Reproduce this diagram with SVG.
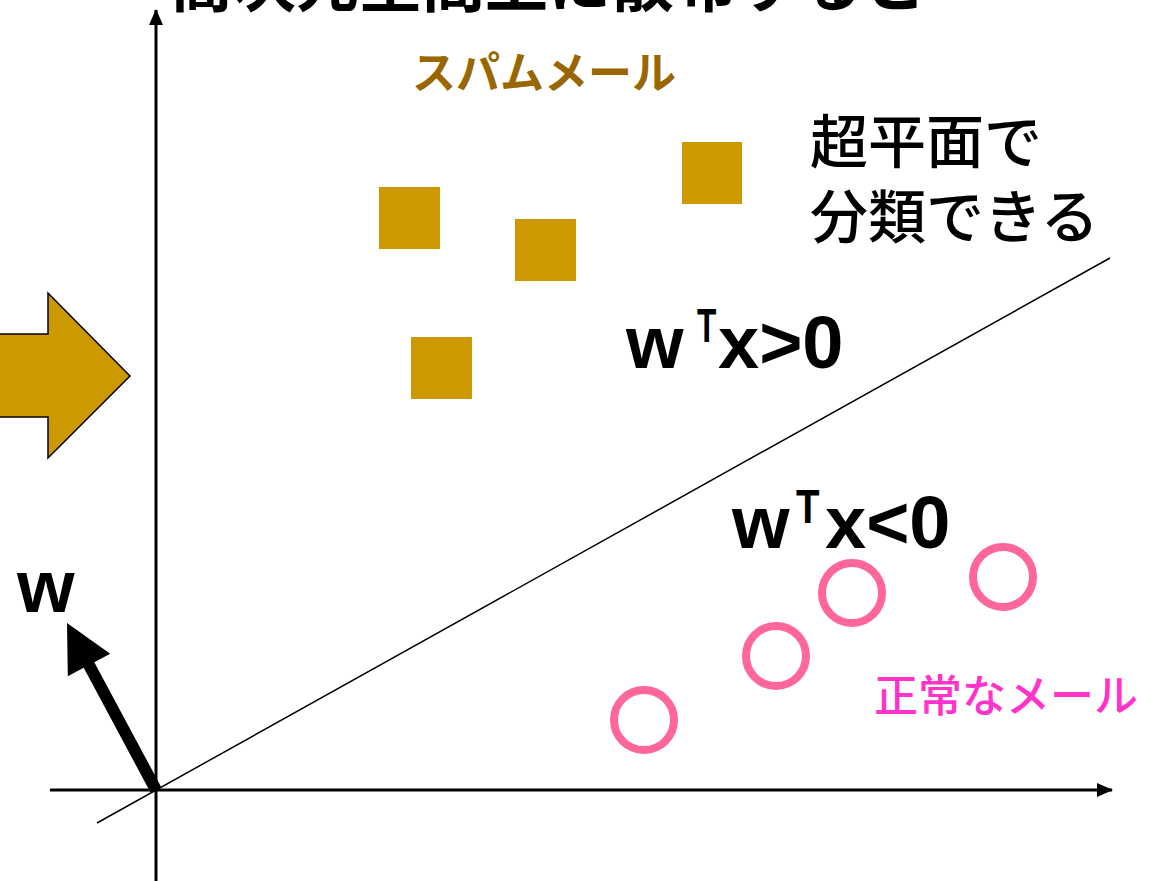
<svg xmlns="http://www.w3.org/2000/svg" width="1158" height="881" viewBox="0 0 1158 881">
  <style>
    .jp { font-family: "Noto Sans CJK JP", "Noto Sans", sans-serif; }
    .math { font-family: "Liberation Sans", Arial, sans-serif; font-weight: bold; fill: #000; font-size: 74px; }
    .sup { font-family: "Liberation Sans", Arial, sans-serif; font-weight: bold; fill: #000; font-size: 48px; }
    .spam { fill: #CC9900; }
    .ham { fill: none; stroke: #FF6699; stroke-width: 8; }
    .axis { stroke: #000; stroke-width: 3; fill: none; }
  </style>
  <defs>
    <marker id="axhead" markerWidth="16" markerHeight="14" refX="15" refY="7" orient="auto" markerUnits="userSpaceOnUse">
      <path d="M0,0 L16,7 L0,14 Z" fill="#000"/>
    </marker>
  </defs>
  <rect width="1158" height="881" fill="#fff"/>

  <g id="title">
    <text class="jp" x="170" y="6" font-size="63" font-weight="bold" fill="#000">高次元空間上に散布すると</text>
  </g>

  <g id="big-arrow">
    <path d="M-5,334 L48,334 L48,293 L130,376 L48,458 L48,417 L-5,417 Z" fill="#CC9900" stroke="#000" stroke-width="1.5"/>
  </g>

  <g id="connectors">
    <line class="axis" x1="156" y1="881" x2="156" y2="10" marker-end="url(#axhead)"/>
    <line class="axis" x1="50" y1="790" x2="1112" y2="790" marker-end="url(#axhead)"/>
    <line x1="97" y1="823" x2="1110" y2="258" stroke="#000" stroke-width="1.5"/>
    <polygon id="w-vector" points="150.7,792.8 161.3,787.2 94.3,662.2 110.2,653.7 67,623 67.8,676.3 83.7,667.8" fill="#000"/>
  </g>

  <g id="spam-label">
    <text class="jp" x="412" y="89" font-size="44" font-weight="bold" fill="#996600">スパムメール</text>
  </g>

  <g id="spam-1"><rect class="spam" x="379" y="187" width="61" height="62"/></g>
  <g id="spam-2"><rect class="spam" x="515" y="219" width="61" height="62"/></g>
  <g id="spam-3"><rect class="spam" x="682" y="142" width="60" height="62"/></g>
  <g id="spam-4"><rect class="spam" x="411" y="337" width="61" height="62"/></g>

  <g id="hyperplane-label">
    <text class="jp" font-size="58" font-weight="500" fill="#000"><tspan x="810" y="163">超平面で</tspan><tspan x="810" y="238">分類できる</tspan></text>
  </g>

  <g id="positive-label">
    <text class="math" x="626" y="368">w</text>
    <text class="sup" transform="translate(697,342) scale(0.66,1)">T</text>
    <text class="math" x="718" y="368">x&gt;0</text>
  </g>

  <g id="negative-label">
    <text class="math" x="732" y="548">w</text>
    <text class="sup" transform="translate(796,523) scale(0.8,1)">T</text>
    <text class="math" x="825" y="548">x&lt;0</text>
  </g>

  <g id="w-label">
    <text class="math" x="17" y="612" font-size="75">w</text>
  </g>

  <g id="ham-1"><circle class="ham" cx="644" cy="720" r="30"/></g>
  <g id="ham-2"><circle class="ham" cx="776" cy="656" r="30"/></g>
  <g id="ham-3"><circle class="ham" cx="852" cy="593" r="30"/></g>
  <g id="ham-4"><circle class="ham" cx="1003" cy="577" r="30"/></g>

  <g id="ham-label">
    <text class="jp" x="874" y="712" font-size="44" font-weight="500" fill="#FF33CC">正常なメール</text>
  </g>
</svg>
